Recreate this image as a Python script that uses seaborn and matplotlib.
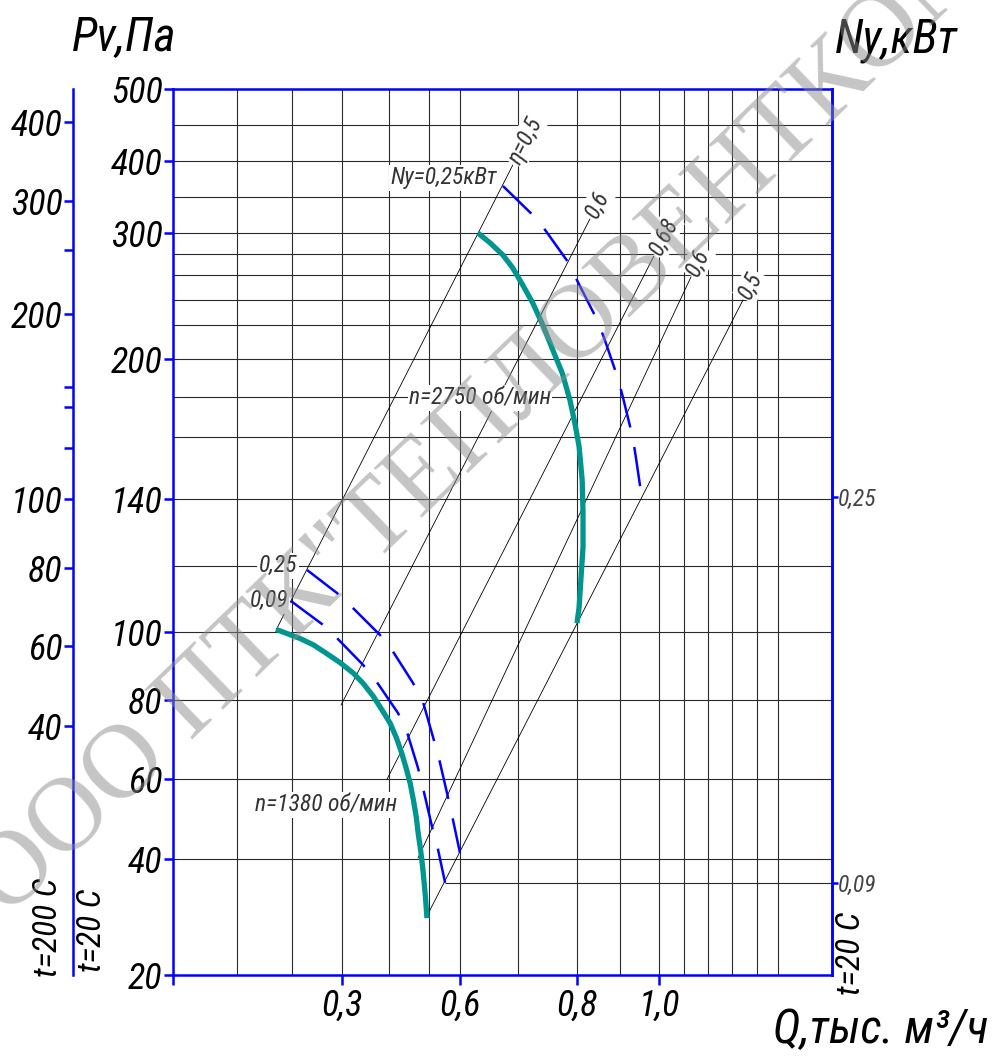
import numpy as np
import matplotlib
matplotlib.use("Agg")
import matplotlib.pyplot as plt
from matplotlib import font_manager as fm
import seaborn as sns

# ---------------- data (Q in thousand m3/h, Pv in Pa at t=20 C) ----------------
q_2750 = [0.631, 0.652, 0.674, 0.691, 0.708, 0.725, 0.742, 0.759, 0.775, 0.788,
          0.797, 0.805, 0.812, 0.814, 0.814, 0.809, 0.805, 0.800]
pv_2750 = [300, 290.5, 279, 266.7, 252, 237.6, 220, 205.3, 192.6, 178.5,
           166, 156.8, 146.1, 135.8, 125.7, 115.8, 107.6, 102.7]

q_1380 = [0.171, 0.190, 0.216, 0.243, 0.269, 0.296, 0.324, 0.345, 0.367, 0.385, 0.403, 0.419,
          0.432, 0.443, 0.453, 0.461, 0.468, 0.473, 0.479, 0.484, 0.488, 0.491, 0.495]
pv_1380 = [100.8, 99.6, 98.1, 96.2, 93.7, 91.0, 87.9, 84.9, 81.0, 77.5, 74.1, 70.3,
           66.5, 62.7, 58.9, 54.75, 50.6, 46.4, 42.25, 38.7, 35.8, 33.5, 29.8]

# power curves Ny (dashed)
q_ny009_1380 = [0.198, 0.26, 0.29, 0.345, 0.374, 0.4225, 0.445, 0.4725, 0.485, 0.51, 0.526, 0.552]
pv_ny009_1380 = [109.4, 102.4, 98.2, 90.3, 85.3, 76.7, 71.9, 62.8, 57.75, 48.0, 43.5, 35.9]

q_ny025_1380 = [0.23, 0.29, 0.321, 0.381, 0.4075, 0.46, 0.485, 0.513, 0.532, 0.561, 0.574, 0.6]
pv_ny025_1380 = [118.8, 111.8, 107.6, 99.1, 94.7, 85.0, 79.5, 70.6, 65.3, 55.5, 51.0, 41.5]

q_ny025_2750 = [0.674, 0.725, 0.746, 0.786, 0.802, 0.847, 0.863, 0.895, 0.908, 0.933, 0.941, 0.956]
pv_ny025_2750 = [365.3, 325, 304.2, 271.4, 254.4, 224, 212.4, 190, 179.5, 159.7, 153.2, 140.3]

# efficiency lines
eta_labels = ["\u03b7=0,5", "0,6", "0,68", "0,6", "0,5"]
eta_q_start = [0.171, 0.298, 0.396, 0.4725, 0.495]
eta_pv_start = [100.6, 78.7, 60.0, 40.25, 30.2]
eta_q_end = [0.691, 0.830, 0.987, 1.129, 1.344]
eta_pv_end = [394.4, 319.4, 278.1, 258.4, 240.0]

# axis ticks / labels
x_ticks = [0.0, 0.3, 0.6, 0.8, 1.0]
x_ticklabels = ["", "0,3", "0,6", "0,8", "1,0"]
y_ticks = [20, 40, 60, 80, 100, 140, 200, 300, 400, 500]
y_ticklabels = ["20", "40", "60", "80", "100", "140", "200", "300", "400", "500"]
grid_q = [0.1, 0.2, 0.3, 0.4, 0.5, 0.6, 0.7, 0.8, 0.9, 1.0, 1.1, 1.2, 1.3, 1.4, 1.5]
grid_pv = [40, 60, 80, 100, 120, 140, 160, 180, 200, 220, 240, 260, 280, 300, 350, 400, 450]

# outer axis (t=200 C)
out_ticks = [40, 60, 80, 100, 120, 140, 160, 200, 250, 300, 400]
out_ticklabels = ["40", "60", "80", "100", "", "", "", "200", "", "300", "400"]
# Ny axis
ny_ticks = [0.09, 0.25]
ny_ticklabels = ["0,09", "0,25"]

# ---------------- layout (pixel geometry of the drawing) ----------------
W, H = 992, 1056
L, R, T, B = 173, 832, 89, 975
Q_ANCH = [0.0, 0.1, 0.2, 0.3, 0.4, 0.5, 0.6, 0.7, 0.8, 0.9, 1.0, 1.1, 1.2, 1.3, 1.4, 1.5, 1.75]
Q_PX = [173, 237, 292, 342, 389, 429, 460, 518, 577, 620, 659, 684, 708, 732, 757, 778, 832]
P_ANCH = [20, 40, 60, 80, 100, 120, 140, 160, 180, 200, 220, 240, 260, 280, 300, 350, 400, 450, 500]
P_PX = [975, 859, 779, 700, 632, 566, 499, 437, 397, 359, 325, 300, 275, 254, 233, 197, 161, 125, 89]
OUT_ANCH = [0, 40, 60, 80, 100, 120, 140, 160, 200, 250, 300, 400, 450]
OUT_PX = [975, 726, 646, 568, 499, 448, 407, 387, 314, 250, 201, 122, 89]
NY_PX = [883, 497]
OUT_X = 73

BLUE = "#0000ff"
TEAL = "#00968f"
GRID = "#2a2a2a"

sns.set_theme(style="white")

# pick the narrowest available sans family
_fonts = fm.fontManager.ttflist
_names = {f.name for f in _fonts}
STRETCH = "normal"
if "Roboto Condensed" in _names:
    FAM, K = ["Roboto Condensed", "DejaVu Sans"], 1.0
elif "Liberation Sans Narrow" in _names:
    FAM, K = ["Liberation Sans Narrow", "DejaVu Sans"], 0.95
elif any(f.name == "DejaVu Sans" and str(f.stretch) in ("condensed", "semi-condensed") for f in _fonts):
    FAM, K, STRETCH = ["DejaVu Sans"], 0.85, "condensed"
else:
    FAM, K = ["Liberation Sans", "DejaVu Sans"], 0.85
plt.rcParams["font.family"] = FAM
plt.rcParams["font.stretch"] = STRETCH
plt.rcParams["lines.scale_dashes"] = False
plt.rcParams["axes.unicode_minus"] = False

FS_TICK = 26 * K
FS_SMALL = 17 * K
FS_N = 17 * K
FS_BIG = 34 * K
FS_T = 24 * K

fig = plt.figure(figsize=(W / 100, H / 100), dpi=100)
rect = [L / W, 1 - B / H, (R - L) / W, (B - T) / H]
ax = fig.add_axes(rect)

qa, qp = np.array(Q_ANCH, float), np.array(Q_PX, float)
pa, pp = np.array(P_ANCH, float), -np.array(P_PX, float)
ax.set_xscale("function", functions=(lambda v: np.interp(v, qa, qp), lambda v: np.interp(v, qp, qa)))
ax.set_yscale("function", functions=(lambda v: np.interp(v, pa, pp), lambda v: np.interp(v, pp, pa)))
ax.set_xlim(Q_ANCH[0], Q_ANCH[-1])
ax.set_ylim(P_ANCH[0], P_ANCH[-1])

# grid
ax.vlines(grid_q, P_ANCH[0], P_ANCH[-1], colors=GRID, linewidth=0.8, zorder=1)
ax.hlines(grid_pv, Q_ANCH[0], Q_ANCH[-1], colors=GRID, linewidth=0.8, zorder=1)
# connector from Ny=0.09 curve end to the Ny axis
ax.hlines(pv_ny009_1380[-1], q_ny009_1380[-1], Q_ANCH[-1], colors=GRID, linewidth=0.8, zorder=1)

small = dict(fontsize=FS_SMALL, color="#333333", zorder=5,
             bbox=dict(facecolor="white", edgecolor="none", pad=1.0))

# efficiency lines
for lab, q0, p0, q1, p1 in zip(eta_labels, eta_q_start, eta_pv_start, eta_q_end, eta_pv_end):
    sns.lineplot(x=[q0, q1], y=[p0, p1], ax=ax, color="black", linewidth=0.6, sort=False,
                 estimator=None, zorder=2)
    d0 = ax.transData.transform((q0, p0))
    d1 = ax.transData.transform((q1, p1))
    ang = np.degrees(np.arctan2(d1[1] - d0[1], d1[0] - d0[0]))
    ax.annotate(lab, xy=(q1, p1), xytext=(2 * np.cos(np.radians(ang)), 2 * np.sin(np.radians(ang))),
                textcoords="offset points", rotation=ang, rotation_mode="anchor",
                ha="left", va="center", fontstyle="italic", **small)

# power curves (dashed blue)
for qs, ps in [(q_ny009_1380, pv_ny009_1380), (q_ny025_1380, pv_ny025_1380), (q_ny025_2750, pv_ny025_2750)]:
    sns.lineplot(x=qs, y=ps, ax=ax, color=BLUE, linewidth=1.8, sort=False, estimator=None, zorder=3)
    ax.lines[-1].set_dashes([28.5, 14.4])

# fan curves (teal)
for qs, ps in [(q_1380, pv_1380), (q_2750, pv_2750)]:
    sns.lineplot(x=qs, y=ps, ax=ax, color=TEAL, linewidth=3.8, sort=False, estimator=None, zorder=4)
    ax.lines[-1].set_solid_capstyle("butt")
    ax.lines[-1].set_solid_joinstyle("round")

# labels on curves
ax.annotate("0,25", xy=(q_ny025_1380[0], pv_ny025_1380[0]), xytext=(-7, 3), textcoords="offset points",
            ha="right", va="center", fontstyle="italic", **small)
ax.annotate("0,09", xy=(q_ny009_1380[0], pv_ny009_1380[0]), xytext=(-2, 0), textcoords="offset points",
            ha="right", va="center", fontstyle="italic", **small)
ax.annotate("Ny=0,25\u043a\u0412\u0442", xy=(q_ny025_2750[0], pv_ny025_2750[0]), xytext=(-4, 6),
            textcoords="offset points", ha="right", va="center", fontstyle="italic", **small)
nlab = dict(small, fontsize=FS_N)
ax.text((480 - L) / (R - L), (B - 398) / (B - T), "n=2750 \u043e\u0431/\u043c\u0438\u043d",
        transform=ax.transAxes, ha="center", va="center", fontstyle="italic", **nlab)
ax.text((326 - L) / (R - L), (B - 805) / (B - T), "n=1380 \u043e\u0431/\u043c\u0438\u043d",
        transform=ax.transAxes, ha="center", va="center", fontstyle="italic", **nlab)

# spines & ticks of main axes
for s in ax.spines.values():
    s.set_color(BLUE)
    s.set_linewidth(1.8)
    s.set_visible(True)
ax.set_xticks(x_ticks)
ax.set_xticklabels(x_ticklabels, fontsize=FS_TICK, fontstyle="italic", color="black")
ax.set_yticks(y_ticks)
ax.set_yticklabels(y_ticklabels, fontsize=FS_TICK, fontstyle="italic", color="black")
ax.tick_params(axis="both", which="major", direction="out", color=BLUE, width=1.8, length=6.5, pad=1,
               left=True, bottom=True, top=False, right=False)
ax.tick_params(axis="x", length=7.5, pad=2)
ax.minorticks_off()
ax.set_xlabel("")
ax.set_ylabel("")
ax.grid(False)
ax.patch.set_alpha(0)

# outer left axis (t = 200 C)
ax_o = fig.add_axes(rect)
ax_o.patch.set_visible(False)
oa, op = np.array(OUT_ANCH, float), -np.array(OUT_PX, float)
ax_o.set_yscale("function", functions=(lambda v: np.interp(v, oa, op), lambda v: np.interp(v, op, oa)))
ax_o.set_ylim(OUT_ANCH[0], OUT_ANCH[-1])
for k in ["top", "right", "bottom"]:
    ax_o.spines[k].set_visible(False)
ax_o.spines["left"].set_position(("axes", (OUT_X - L) / (R - L)))
ax_o.spines["left"].set_color(BLUE)
ax_o.spines["left"].set_linewidth(1.8)
ax_o.set_xticks([])
ax_o.set_yticks(out_ticks)
ax_o.set_yticklabels(out_ticklabels, fontsize=FS_TICK, fontstyle="italic", color="black")
ax_o.tick_params(axis="y", direction="out", color=BLUE, width=1.8, length=6.5, pad=1, left=True)
ax_o.minorticks_off()
ax_o.grid(False)

# right Ny axis
ax_r = fig.add_axes(rect)
ax_r.patch.set_visible(False)
slope = (NY_PX[0] - NY_PX[1]) / (ny_ticks[1] - ny_ticks[0])
ax_r.set_ylim(ny_ticks[0] - (B - NY_PX[0]) / slope, ny_ticks[1] + (NY_PX[1] - T) / slope)
for k in ["top", "left", "bottom"]:
    ax_r.spines[k].set_visible(False)
ax_r.spines["right"].set_color(BLUE)
ax_r.spines["right"].set_linewidth(1.8)
ax_r.set_xticks([])
ax_r.yaxis.tick_right()
ax_r.set_yticks(ny_ticks)
ax_r.set_yticklabels(ny_ticklabels, fontsize=FS_SMALL, fontstyle="italic", color="#444444")
ax_r.tick_params(axis="y", direction="out", color=BLUE, width=1.8, length=4, pad=0.5, right=True, left=False)
ax_r.grid(False)

# axis titles
big = dict(fontsize=FS_BIG, fontstyle="italic", color="black")
fig.text(72 / W, 1 - 38 / H, "Pv,\u041f\u0430", ha="left", va="center", **big)
fig.text(958 / W, 1 - 40 / H, "Ny,\u043a\u0412\u0442", ha="right", va="center", **big)
fig.text(988 / W, 1 - 1030 / H, "Q,\u0442\u044b\u0441. \u043c\u00b3/\u0447", ha="right", va="center", **big)
mid = dict(fontsize=FS_T, fontstyle="italic", color="black", rotation=90)
fig.text(48 / W, 1 - 927 / H, "t=200 C", ha="center", va="center", **mid)
fig.text(92 / W, 1 - 930 / H, "t=20 C", ha="center", va="center", **mid)
fig.text(851 / W, 1 - 953 / H, "t=20 C", ha="center", va="center", **mid)

# watermark
fig.text(-10 / W, 1 - 900 / H,
         "\u041e\u041e\u041e \u041f\u0422\u041a\"\u0422\u0415\u041f\u041b\u041e\u0412\u0415\u041d\u0422\u041a\u041e\u041c\"",
         fontsize=76, family="Liberation Serif", color="#8c8c8c", alpha=0.5, rotation=44,
         rotation_mode="anchor", ha="left", va="center", zorder=10)

fig.savefig("out.png", dpi=100, facecolor="white")
